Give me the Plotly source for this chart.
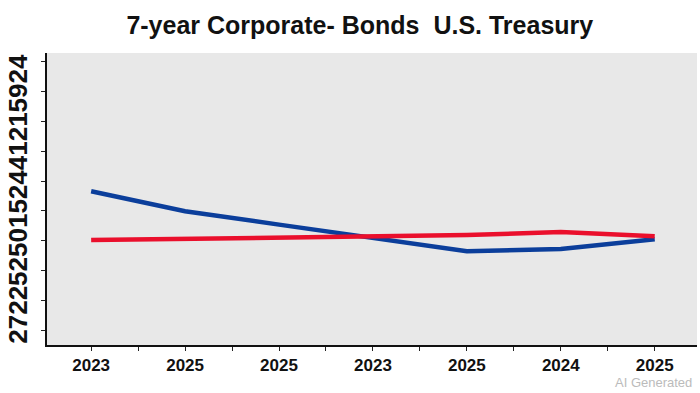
import plotly.graph_objects as go

# Data
x_labels = ["2023", "2025", "2025", "2023", "2025", "2024", "2025"]
corporate = [5.66, 4.99, 4.54, 4.09, 3.65, 3.72, 4.05]
treasury = [4.02, 4.07, 4.12, 4.15, 4.19, 4.29, 4.15]
y_tick_vals = [1, 2, 3, 4, 5, 6, 7, 8, 9, 10]
y_axis_text = "27225250152441215924"
title_text = "7-year Corporate- Bonds  U.S. Treasury"

xs = list(range(len(x_labels)))
tickvals = []
ticktext = []
for i, lab in enumerate(x_labels):
    tickvals.append(i)
    ticktext.append(lab)
    if i < len(x_labels) - 1:
        tickvals.append(i + 0.5)
        ticktext.append("")

fig = go.Figure()
fig.add_trace(go.Scatter(x=xs, y=corporate, mode="lines",
                         line=dict(color="#0b3e9b", width=4.5), name="Corporate Bonds"))
fig.add_trace(go.Scatter(x=xs, y=treasury, mode="lines",
                         line=dict(color="#ea0f2c", width=4.5), name="U.S. Treasury"))

fig.update_layout(
    width=700, height=393,
    margin=dict(l=47, r=3, t=53, b=48),
    paper_bgcolor="white",
    plot_bgcolor="#e8e8e8",
    showlegend=False,
    title=dict(text=title_text, x=0.514, xanchor="center", y=0.935, yanchor="middle",
               font=dict(family="Liberation Sans, Arial", size=25, color="#111111", weight="bold")),
    font=dict(family="Liberation Sans, Arial"),
)
fig.update_xaxes(
    range=[-0.47, 6.45],
    tickvals=tickvals, ticktext=ticktext,
    ticks="outside", ticklen=4, tickcolor="#222", tickwidth=1,
    showline=True, linecolor="#111", linewidth=2,
    showgrid=False, zeroline=False,
    tickfont=dict(size=17, color="#111", weight="bold"),
)
fig.update_yaxes(
    range=[0.5, 10.3],
    tickvals=y_tick_vals, showticklabels=False,
    ticks="outside", ticklen=4, tickcolor="#222", tickwidth=1,
    showline=True, linecolor="#111", linewidth=2,
    showgrid=False, zeroline=False,
)
fig.add_annotation(text=y_axis_text, xref="paper", yref="paper", x=-0.045, y=0.5,
                   xanchor="center", yanchor="middle", textangle=-90, showarrow=False,
                   font=dict(family="Liberation Sans, Arial", size=26, color="#111", weight="bold"))
fig.add_annotation(text="AI Generated", xref="paper", yref="paper", x=0.995, y=-0.13,
                   xanchor="right", yanchor="middle", showarrow=False,
                   font=dict(family="Liberation Sans, Arial", size=13, color="#bbbbbb"))

fig.write_html("out.html", config={"displayModeBar": False},
               post_script="document.body.style.margin='0';")
